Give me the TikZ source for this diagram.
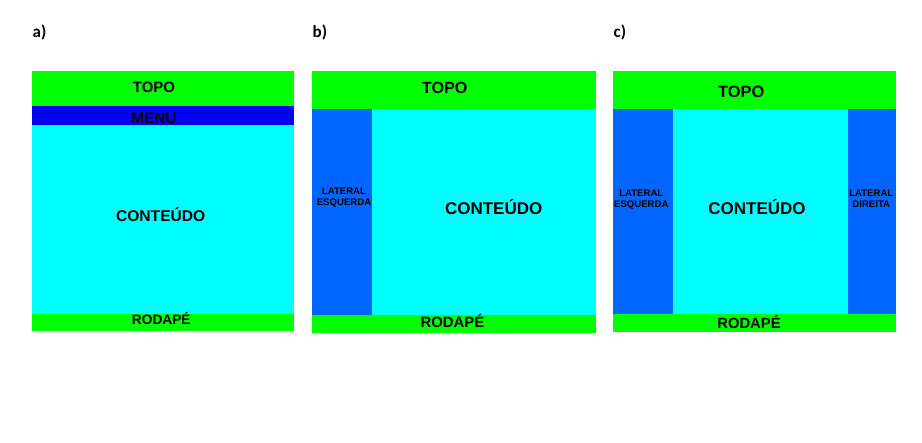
\documentclass[tikz,border=0pt]{standalone}
\usepackage{fontspec}
\setmainfont{Liberation Sans}
\newfontfamily\panelfont{Carlito}
\usetikzlibrary{positioning}
\definecolor{mygreen}{RGB}{0,255,0}
\definecolor{mycyan}{RGB}{0,255,255}
\definecolor{mymenu}{RGB}{0,0,245}
\definecolor{myside}{RGB}{0,102,255}
\tikzset{
  region/.style={fill=#1,draw=none},
  txt/.style={inner sep=0pt,anchor=base,font=\bfseries\fontsize{#1}{#1}\selectfont,text=black},
  side/.style={inner sep=0pt,anchor=base,align=center,font=\bfseries\fontsize{9.6}{10.6}\selectfont,text=black},
  panel/.style={inner sep=0pt,anchor=base west,font=\panelfont\bfseries\fontsize{17}{17}\selectfont}
}

\begin{document}
\begin{tikzpicture}[x=1pt,y=-1pt]
\useasboundingbox (0,0) rectangle (922,443);
% a)
\draw (32.5,38) node [panel] (la) {a)};
\fill [region=mygreen] (32,70.7) rectangle (294,106);
\fill [region=mymenu] (32,106) rectangle (294,124.7);
\fill [region=mycyan] (32,124.7) rectangle (294,314);
\fill [region=mygreen] (32,314) rectangle (294,330.7);
\draw (154,92.7) node [txt=15] (topoa) {TOPO};
\draw (154,123.3) node [txt=15.3] (menua) {MENU};
\draw (160.7,221.7) node [txt=15.6] (conta) {CONTEÚDO};
\draw (161.3,325) node [txt=13.7] (roda) {RODAPÉ};
% b)
\draw (312.5,38) node [panel] (lb) {b)};
\fill [region=mygreen] (312,70.7) rectangle (596,109.3);
\fill [region=myside] (312,109.3) rectangle (372.3,314.7);
\fill [region=mycyan] (372.3,109.3) rectangle (596,314.7);
\fill [region=mygreen] (312,314.7) rectangle (596,332.7);
\draw (444.7,94) node [txt=16.2] (topob) {TOPO};
\draw (344,205.3) node [side] (latb) {LATERAL\\ESQUERDA};
\draw (493.7,215) node [txt=17] (contb) {CONTEÚDO};
\draw (452.5,327.3) node [txt=14.9] (rodb) {RODAPÉ};
% c)
\draw (613.5,38) node [panel] (lc) {c)};
\fill [region=mygreen] (612.7,70.7) rectangle (896,109.3);
\fill [region=myside] (612.7,109.3) rectangle (673,314);
\fill [region=mycyan] (673,109.3) rectangle (848,314);
\fill [region=myside] (848,109.3) rectangle (896,314);
\fill [region=mygreen] (612.7,314) rectangle (896,332);
\draw (741.3,97.3) node [txt=16.4] (topoc) {TOPO};
\draw (641.3,207.3) node [side] (latec) {LATERAL\\ESQUERDA};
\draw (757,215) node [txt=17] (contc) {CONTEÚDO};
\draw (871.3,207.3) node [side] (latdc) {LATERAL\\DIREITA};
\draw (749,328.5) node [txt=14.8] (rodc) {RODAPÉ};
\end{tikzpicture}
\end{document}
